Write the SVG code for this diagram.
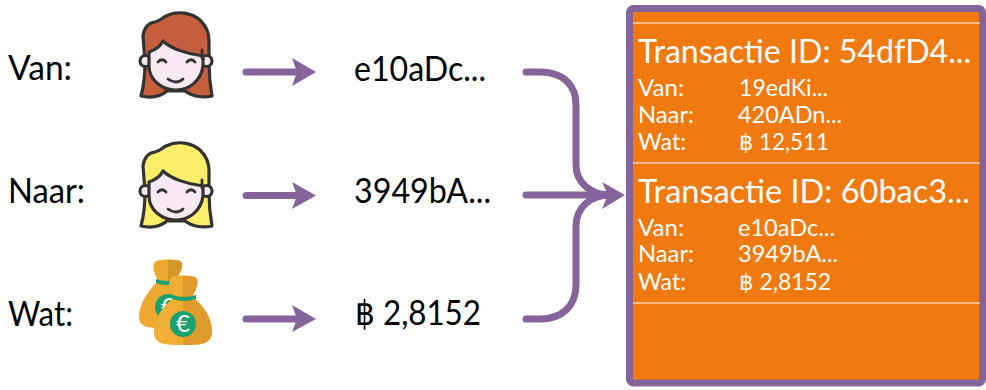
<svg xmlns="http://www.w3.org/2000/svg" width="986" height="390" viewBox="0 0 986 390">
<style>
text{font-family:Lato,"Open Sans","Liberation Sans",sans-serif}
.big{font-size:34px;fill:#000}
.t{font-size:33px;fill:#fff}
.s{font-size:22.500px;fill:#fff}
.b{font-family:"DejaVu Sans",sans-serif}
.c{fill:none;stroke:#84649b;stroke-width:7;stroke-linecap:round}
.h{fill:#84649b}
.hl{stroke:#f9d3ad;stroke-width:1.6}
.o{stroke:#333;stroke-width:3.200;stroke-linejoin:round;stroke-linecap:round}
.l{fill:none;stroke:#333;stroke-width:2.800;stroke-linecap:round}
</style>
<defs>
<g id="face">
<path class="o" d="M21 96C24 85 25 75 25 62L23 36C24 28 28 23 35 22C40 21 42 18 46 16C58 10 72 13 80 20C86 26 89 32 89 40L89 62C89 75 90 85 92 96C84 98 73 97 65 91L47 91C40 97 30 98 21 96Z"/>
<circle class="o" cx="25.500" cy="61" r="5.500" fill="#f9e9f2"/>
<circle class="o" cx="86.500" cy="61" r="5.500" fill="#f9e9f2"/>
<path class="o" fill="#f9e9f2" d="M29 52C35 50 40 47 43 41C50 48 66 54 83 56L83 66C81 81 69 90 56 90C42 90 29 80 29 66Z"/>
<path class="l" d="M82 50L82 58M38 62C40 59 44 59 46 62M67 62C69 59 73 59 75 62M48 79C53 83 59 83 63 79"/>
</g>
</defs>
<g id="connectors">
<path class="c" d="M246 72H300"/>
<path class="h" d="M292 58L316 72L292 86L297 72Z"/>
<path class="c" d="M246 195.500H300"/>
<path class="h" d="M292 182L316 195.500L292 209L297 195.500Z"/>
<path class="c" d="M246 319H300"/>
<path class="h" d="M292 305L316 319L292 332L297 319Z"/>
<path class="c" d="M526 72H540C562 72 576 84 576 105V165C576 182 590 195 610 195"/>
<path class="c" d="M526 319H540C562 319 576 306 576 285V226C576 208 590 195 610 195"/>
<path class="c" d="M526 195H610"/>
<path class="h" d="M602 182L625 195L602 209L608 195Z"/>
</g>
<g id="van">
<text class="big" x="8" y="80" textLength="64" lengthAdjust="spacingAndGlyphs">Van:</text>
<use id="woman1" href="#face" x="120" y="0" style="fill:#c65f3e"/>
<text class="big" x="354" y="81" textLength="132" lengthAdjust="spacingAndGlyphs">e10aDc...</text>
</g>
<g id="naar">
<text class="big" x="8" y="203" textLength="77" lengthAdjust="spacingAndGlyphs">Naar:</text>
<use id="woman2" href="#face" x="120" y="130" style="fill:#fbef6a"/>
<text class="big" x="354" y="203" textLength="137" lengthAdjust="spacingAndGlyphs">3949bA...</text>
</g>
<g id="wat">
<text class="big" x="8" y="326" textLength="65" lengthAdjust="spacingAndGlyphs">Wat:</text>
<g id="bags">
<path fill="#eda92f" d="M156 261C162 259 176 259 180 261C185 264 181 272 175 281C190 290 200 305 200 318C200 329 190 328 170 328C152 328 139 329 139 317C139 303 149 290 158 281C154 272 151 265 156 261Z"/>
<path fill="#d8952a" d="M168 260C173 260 177 260 180 261C185 264 181 272 175 281L168 281Z"/>
<path fill="#19a26f" d="M156 279Q167 283 178 279L178 283Q167 287 156 283Z"/>
<circle cx="168" cy="307" r="13" fill="#19a26f"/>
<text x="168" y="315" text-anchor="middle" style="font-size:24px;fill:#fff">€</text>
<path fill="#f0ae34" d="M172 277C178 275 191 275 195 277C200 280 197 288 192 297C205 306 212 320 212 331C212 345 200 345 183 345C165 345 154 345 154 331C154 320 162 306 175 297C171 288 166 281 172 277Z"/>
<path fill="#df9c2c" d="M183 276C188 276 192 276 195 277C200 280 197 288 192 297C205 306 212 320 212 331C212 345 200 345 183 345Z"/>
<path fill="#19a26f" d="M172 295Q184 299 196 295L196 299Q184 303 172 299Z"/>
<circle cx="183" cy="324" r="13" fill="#19a26f"/>
<text x="183" y="332" text-anchor="middle" style="font-size:24px;fill:#fff">€</text>
</g>
<text class="big" x="355" y="325" textLength="126" lengthAdjust="spacingAndGlyphs"><tspan class="b">฿</tspan> 2,8152</text>
</g>
<g id="block">
<rect x="629.500" y="8.500" width="353" height="374.500" rx="4" fill="#f07a10" stroke="#84649b" stroke-width="7"/>
<path class="hl" d="M633 23H980M633 163H980M633 303H980"/>
<text class="t" x="638" y="63" textLength="333" lengthAdjust="spacingAndGlyphs">Transactie ID: 54dfD4...</text>
<text class="s" x="638" y="96" textLength="46" lengthAdjust="spacingAndGlyphs">Van:</text><text class="s" x="739" y="96" textLength="89" lengthAdjust="spacingAndGlyphs">19edKi...</text>
<text class="s" x="638" y="123" textLength="56" lengthAdjust="spacingAndGlyphs">Naar:</text><text class="s" x="738" y="123" textLength="104" lengthAdjust="spacingAndGlyphs">420ADn...</text>
<text class="s" x="638" y="150" textLength="48" lengthAdjust="spacingAndGlyphs">Wat:</text><text class="s" x="739" y="150" textLength="90" lengthAdjust="spacingAndGlyphs"><tspan class="b">฿</tspan> 12,511</text>
<text class="t" x="638" y="203" textLength="332" lengthAdjust="spacingAndGlyphs">Transactie ID: 60bac3...</text>
<text class="s" x="638" y="236" textLength="46" lengthAdjust="spacingAndGlyphs">Van:</text><text class="s" x="738" y="236" textLength="97" lengthAdjust="spacingAndGlyphs">e10aDc...</text>
<text class="s" x="638" y="262" textLength="56" lengthAdjust="spacingAndGlyphs">Naar:</text><text class="s" x="738" y="262" textLength="100" lengthAdjust="spacingAndGlyphs">3949bA...</text>
<text class="s" x="638" y="290" textLength="48" lengthAdjust="spacingAndGlyphs">Wat:</text><text class="s" x="739" y="290" textLength="92" lengthAdjust="spacingAndGlyphs"><tspan class="b">฿</tspan> 2,8152</text>
</g>
</svg>
